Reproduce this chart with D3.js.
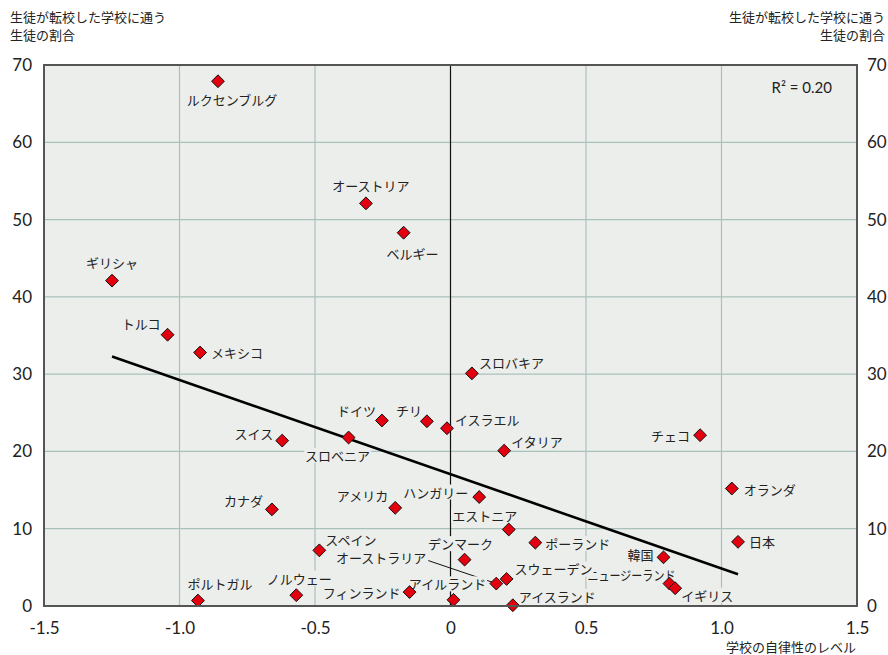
<!DOCTYPE html>
<html>
<head>
<meta charset="utf-8">
<script src="https://cdn.jsdelivr.net/npm/d3@7"></script>
<style>
  html, body { margin: 0; padding: 0; background: #ffffff; }
  svg { display: block; }
  .jp { font-family: "Noto Sans CJK JP", "Noto Sans", sans-serif; }
  .num { font-family: Lato, "DejaVu Sans", sans-serif; }
</style>
</head>
<body>
<svg id="chart" width="888" height="655"></svg>
<script>
// Countries and their values: school autonomy index (x) and share of students
// attending a school that took in transferred students (y, %)
const countries = [
  "ルクセンブルグ", "オーストリア", "ベルギー", "ギリシャ", "トルコ", "メキシコ",
  "スロバキア", "ドイツ", "チリ", "イスラエル", "スイス", "スロベニア", "イタリア",
  "チェコ", "オランダ", "カナダ", "アメリカ", "ハンガリー", "エストニア", "ポーランド",
  "日本", "スペイン", "デンマーク", "韓国", "ニュージーランド", "イギリス",
  "スウェーデン", "オーストラリア", "ポルトガル", "ノルウェー", "フィンランド",
  "アイルランド", "アイスランド"
];
const autonomy = [
  -0.858, -0.312, -0.173, -1.249, -1.044, -0.924,
  0.079, -0.253, -0.087, -0.013, -0.621, -0.376, 0.198,
  0.921, 1.038, -0.659, -0.204, 0.106, 0.215, 0.313,
  1.061, -0.484, 0.052, 0.786, 0.808, 0.829,
  0.207, 0.169, -0.932, -0.569, -0.151,
  0.011, 0.230
];
const transferShare = [
  67.9, 52.1, 48.3, 42.1, 35.1, 32.8,
  30.1, 24.0, 23.9, 23.0, 21.4, 21.8, 20.1,
  22.1, 15.2, 12.5, 12.7, 14.1, 9.9, 8.2,
  8.3, 7.2, 6.0, 6.3, 2.9, 2.3,
  3.5, 2.9, 0.7, 1.4, 1.8,
  0.8, 0.1
];

// Axis ticks
const xTicks = [-1.5, -1.0, -0.5, 0, 0.5, 1.0, 1.5];
const xTickLabels = ["-1.5", "-1.0", "-0.5", "0", "0.5", "1.0", "1.5"];
const yTicks = [0, 10, 20, 30, 40, 50, 60, 70];

// Fitted trend: share = intercept + slope * autonomy
const trendSlope = -12.2;
const trendIntercept = 17.05;
const rSquaredText = "R² = 0.20";

// Texts
const yTitle = ["生徒が転校した学校に通う", "生徒の割合"];
const xTitle = "学校の自律性のレベル";

// Label placement around each marker: [anchor, dx, dy, fitted width (optional)]
const labelPlacement = {
  "ルクセンブルグ": ["middle", 14, 18],
  "オーストリア": ["middle", 5, -18],
  "ベルギー": ["middle", 9, 21],
  "ギリシャ": ["middle", 0, -18],
  "トルコ": ["end", -7, -11],
  "メキシコ": ["start", 11, 0],
  "スロバキア": ["start", 7, -11],
  "ドイツ": ["end", -6, -10],
  "チリ": ["end", -5, -11],
  "イスラエル": ["start", 8, -9],
  "スイス": ["end", -9, -7],
  "スロベニア": ["middle", -11, 18],
  "イタリア": ["start", 7, -9],
  "チェコ": ["end", -10, 0],
  "オランダ": ["start", 12, 1],
  "カナダ": ["end", -9, -9],
  "アメリカ": ["end", -7, -12],
  "ハンガリー": ["end", -11, -5],
  "エストニア": ["middle", -24, -14],
  "ポーランド": ["start", 10, 1],
  "日本": ["start", 11, 0],
  "スペイン": ["start", 6, -11],
  "デンマーク": ["middle", -4, -16],
  "韓国": ["end", -10, -3],
  "ニュージーランド": ["middle", -38, -9, 88],
  "イギリス": ["start", 6, 7],
  "スウェーデン": ["start", 8, -10],
  "オーストラリア": ["end", -70, -26],
  "ポルトガル": ["middle", 22, -17],
  "ノルウェー": ["middle", 3, -17],
  "フィンランド": ["end", -9, 0],
  "アイルランド": ["middle", -6, -16],
  "アイスランド": ["start", 6, -9]
};
// Labels that are tied to their marker with a leader line
const leaderLabels = ["オーストラリア"];

const plotBg = "#eceeeb";
const gridColor = "#a9c1bc";
const markerFill = "#e3000f";
const textColor = "#222222";
const labelSize = 13;

const svg = d3.select("#chart");
const plotLeft = 44, plotRight = 857, plotTop = 65, plotBottom = 606;

const x = d3.scaleLinear().domain([-1.5, 1.5]).range([plotLeft, plotRight]);
const y = d3.scaleLinear().domain([0, 70]).range([plotBottom, plotTop]);

// Plot background
svg.append("rect")
  .attr("x", plotLeft).attr("y", plotTop)
  .attr("width", plotRight - plotLeft).attr("height", plotBottom - plotTop)
  .attr("fill", plotBg);

// Grid lines
const grid = svg.append("g");
grid.selectAll("line.h").data(yTicks.filter(d => d > 0 && d < 70)).join("line")
  .attr("class", "h")
  .attr("x1", plotLeft).attr("x2", plotRight)
  .attr("y1", d => y(d)).attr("y2", d => y(d))
  .attr("stroke", gridColor).attr("stroke-width", 1.2);
grid.selectAll("line.v").data(xTicks.filter(d => d !== 0 && Math.abs(d) < 1.5)).join("line")
  .attr("class", "v")
  .attr("y1", plotTop).attr("y2", plotBottom)
  .attr("x1", d => x(d)).attr("x2", d => x(d))
  .attr("stroke", gridColor).attr("stroke-width", 1.2);

// Zero line
svg.append("line")
  .attr("x1", x(0)).attr("x2", x(0))
  .attr("y1", plotTop).attr("y2", plotBottom)
  .attr("stroke", "#111").attr("stroke-width", 1.2);

const points = countries.map((c, i) => ({ name: c, ax: autonomy[i], sh: transferShare[i] }));

// Country labels, each on a small plate of the plot colour
const labelLayer = svg.append("g");
points.forEach(p => {
  const [anchor, dx, dy, fitWidth] = labelPlacement[p.name];
  const cy = y(p.sh) + dy;
  const g = labelLayer.append("g");
  const t = g.append("text")
    .attr("class", "jp")
    .attr("x", x(p.ax) + dx)
    .attr("y", cy)
    .attr("text-anchor", anchor)
    .attr("dominant-baseline", "central")
    .attr("font-size", labelSize)
    .attr("fill", textColor)
    .text(p.name);
  if (fitWidth) {
    t.attr("textLength", fitWidth).attr("lengthAdjust", "spacingAndGlyphs");
  }
  const b = t.node().getBBox();
  const plateH = labelSize + 2;
  g.insert("rect", "text")
    .attr("x", b.x - 1).attr("y", cy - plateH / 2)
    .attr("width", b.width + 2).attr("height", plateH)
    .attr("fill", plotBg);
  if (leaderLabels.includes(p.name)) {
    g.append("line")
      .attr("x1", b.x + b.width + 2).attr("y1", cy + 3)
      .attr("x2", x(p.ax)).attr("y2", y(p.sh))
      .attr("stroke", "#111").attr("stroke-width", 1);
  }
});

// Trend line across the range of the data
const xExt = d3.extent(autonomy);
svg.append("path")
  .datum(xExt.map(v => [v, trendIntercept + trendSlope * v]))
  .attr("d", d3.line().x(d => x(d[0])).y(d => y(d[1])))
  .attr("fill", "none")
  .attr("stroke", "#000")
  .attr("stroke-width", 2.6);

// Diamond markers
svg.append("g").selectAll("path").data(points).join("path")
  .attr("transform", d => `translate(${x(d.ax)},${y(d.sh)})`)
  .attr("d", d3.symbol().type(d3.symbolDiamond2).size(105))
  .attr("fill", markerFill)
  .attr("stroke", "#111")
  .attr("stroke-width", 1);

// Plot frame
svg.append("rect")
  .attr("x", plotLeft).attr("y", plotTop)
  .attr("width", plotRight - plotLeft).attr("height", plotBottom - plotTop)
  .attr("fill", "none")
  .attr("stroke", "#555").attr("stroke-width", 2);

// Axes (labels only, no tick marks)
const yAxisL = d3.axisLeft(y).tickValues(yTicks).tickSize(0).tickPadding(12);
const yAxisR = d3.axisRight(y).tickValues(yTicks).tickSize(0).tickPadding(10);
const xAxis = d3.axisBottom(x).tickValues(xTicks).tickSize(0).tickPadding(16)
  .tickFormat((d, i) => xTickLabels[i]);

function styleAxis(g) {
  g.attr("font-family", null);
  g.select(".domain").remove();
  g.selectAll("text")
    .attr("class", "num")
    .attr("font-size", 17)
    .attr("fill", textColor);
}
svg.append("g").attr("transform", `translate(${plotLeft},0)`).call(yAxisL).call(styleAxis);
svg.append("g").attr("transform", `translate(${plotRight},0)`).call(yAxisR).call(styleAxis);
svg.append("g").attr("transform", `translate(0,${plotBottom})`).call(xAxis).call(styleAxis);

// Axis titles
yTitle.forEach((line, i) => {
  svg.append("text").attr("class", "jp")
    .attr("x", 10).attr("y", 22 + i * 18)
    .attr("font-size", 13).attr("fill", textColor).text(line);
  svg.append("text").attr("class", "jp")
    .attr("x", 885).attr("y", 22 + i * 18)
    .attr("text-anchor", "end")
    .attr("font-size", 13).attr("fill", textColor).text(line);
});
svg.append("text").attr("class", "jp")
  .attr("x", 856).attr("y", 652)
  .attr("text-anchor", "end")
  .attr("font-size", 13).attr("fill", textColor).text(xTitle);

// Fit statistic
svg.append("text").attr("class", "num")
  .attr("x", 832).attr("y", 93)
  .attr("text-anchor", "end")
  .attr("font-size", 15).attr("fill", textColor).text(rSquaredText);
</script>
</body>
</html>
